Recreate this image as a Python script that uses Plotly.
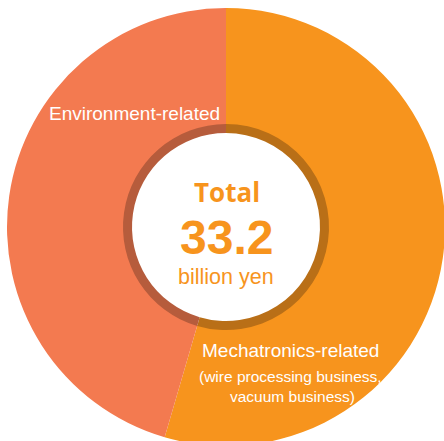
import plotly.graph_objects as go

# Sales composition (billion yen)
segments = ["Mechatronics-related", "Environment-related"]
sales = [18.1, 15.1]
total_label = "33.2"

outer_colors = ["#F7941D", "#F37A50"]
ring_colors = ["#B96F17", "#B65C3C"]

W, H = 452, 454          # canvas slightly larger than the view; the donut runs off the edges
CX, CY = 226, 227        # donut centre in px (from top-left)
R_OUT, R_RING, R_IN = 219, 103, 94


def dom(r):
    return dict(x=[(CX - r) / W, (CX + r) / W],
                y=[(H - CY - r) / H, (H - CY + r) / H])


fig = go.Figure()
fig.add_trace(go.Pie(
    labels=segments, values=sales, sort=False, direction="clockwise", rotation=0,
    hole=(R_RING - 1) / R_OUT, domain=dom(R_OUT),
    marker=dict(colors=outer_colors, line=dict(width=0)),
    textinfo="none", hoverinfo="skip", showlegend=False,
))
fig.add_trace(go.Pie(
    labels=segments, values=sales, sort=False, direction="clockwise", rotation=0,
    hole=R_IN / R_RING, domain=dom(R_RING),
    marker=dict(colors=ring_colors, line=dict(width=0)),
    textinfo="none", hoverinfo="skip", showlegend=False,
))

LIB = "Liberation Sans, Arial, sans-serif"
# (ascent - descent) / 2 of each face, used to place a text box by its baseline
MID = {LIB: 0.3465, "Open Sans": 0.388}

# text, centre x, baseline y, size, family, colour, weight
notes = [
    ("Environment-related", 134, 120, 19, LIB, "white", 400),
    ("Mechatronics-related", 290, 356.7, 19, LIB, "white", 400),
    ("(wire processing business,", 290, 381.7, 15.5, LIB, "white", 400),
    ("vacuum business)", 292.5, 401.7, 15.5, LIB, "white", 400),
    ("Total", 227, 201.7, 26, "Open Sans", "#F7941D", 700),
    (total_label, 226, 254.5, 48, LIB, "#F7941D", 700),
    ("billion yen", 226, 284.8, 21.5, LIB, "#F7941D", 400),
]
for text, x, base, size, fam, col, wt in notes:
    yc = base - MID[fam] * size
    fig.add_annotation(x=x / W, y=1 - yc / H, xref="paper", yref="paper", text=text,
                       showarrow=False, xanchor="center", yanchor="middle",
                       borderpad=0, borderwidth=0,
                       font=dict(size=size, family=fam, color=col, weight=wt))

fig.update_layout(width=W, height=H, margin=dict(l=0, r=0, t=0, b=0),
                  paper_bgcolor="white", plot_bgcolor="white")

clip = ("var g=document.getElementById('{plot_id}');var p=g.parentElement;"
        "p.style.width='444px';p.style.height='441px';p.style.overflow='hidden';"
        "document.body.style.margin='0';document.body.style.overflow='hidden';")
fig.write_html("out.html", post_script=clip)
